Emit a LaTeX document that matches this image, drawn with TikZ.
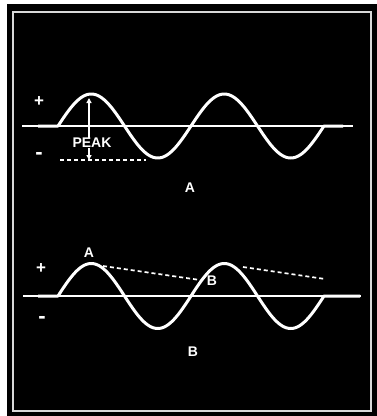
\documentclass[tikz,border=0pt]{standalone}
\usepackage{fontspec}
\setmainfont{Liberation Sans}
\usetikzlibrary{arrows.meta}
\begin{document}
\begin{tikzpicture}[x=1pt,y=-1pt,
  lbl/.style={text=white,font=\fontsize{14}{14}\selectfont\bfseries,inner sep=0pt},
  sgn/.style={text=white,font=\fontsize{17}{17}\selectfont\bfseries,inner sep=0pt},
  axisline/.style={draw=white,line width=1.7pt},
  wave/.style={draw=white,line width=3pt,line join=round},
  dashline/.style={draw=white,line width=1.7pt,dash pattern=on 4pt off 3pt},
  framebox/.style={draw=white!85!black,line width=1.5pt},
  arr/.style={draw=white,line width=1.4pt,-{Triangle[length=5pt,width=5pt]}}]
\useasboundingbox (0,0) rectangle (377,416);
\fill[white] (0,0) rectangle (377,416);
\fill[black] (7,4) rectangle (377,416);
\draw[framebox] (13,12) rectangle (371,411);
% ---- top panel (A)
\draw[axisline] (22,126) -- (353,126);
\draw[wave] (38,126) -- (58,126)
  -- plot[domain=58:324,samples=200] (\x,{126-32*sin(2.70677*(\x-58))})
  -- (343,126);
\draw[dashline] (60,160) -- (146,160);
\coordinate (pk) at (89,98);
\coordinate (bs) at (89,160);
\node[lbl] (peak) at (92,143) {PEAK};
\draw[arr] (peak.north -| pk) -- (pk);
\draw[arr] (peak.south -| bs) -- (bs);
\node[sgn] (p1) at (39,102) {+};
\node[sgn,font=\fontsize{22}{22}\selectfont\bfseries] (m1) at (39,156) {-};
\node[lbl] (la) at (190,188) {A};
% ---- bottom panel (B)
\draw[axisline] (23,296) -- (361,296);
\draw[wave] (38,296) -- (58,296)
  -- plot[domain=58:324,samples=200] (\x,{296-32.5*sin(2.70677*(\x-58))})
  -- (360,296);
\coordinate (d1s) at (103,266);
\coordinate (d1e) at (200,280);
\coordinate (d2s) at (243,267);
\coordinate (d2e) at (325,279);
\draw[dashline] (d1s) -- (d1e);
\draw[dashline] (d2s) -- (d2e);
\node[lbl] (pa) at (89,253) {A};
\node[lbl] (pb) at (212,281) {B};
\node[sgn] (p2) at (41,269) {+};
\node[sgn,font=\fontsize{22}{22}\selectfont\bfseries] (m2) at (42,320) {-};
\node[lbl] (lb) at (193,352) {B};
\end{tikzpicture}
\end{document}
